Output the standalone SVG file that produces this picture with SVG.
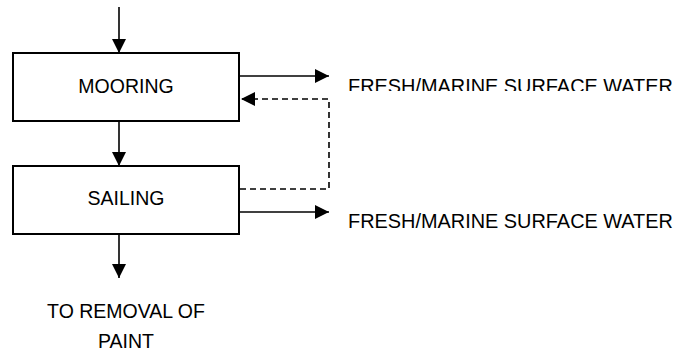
<svg xmlns="http://www.w3.org/2000/svg" width="679" height="353" viewBox="0 0 679 353">
  <style>
    .box { fill: #ffffff; stroke: #000000; stroke-width: 2; }
    .lbl { font-family: "Liberation Sans", Arial, sans-serif; font-size: 19.5px; fill: #000000; }
    .wide { font-size: 19.9px; }
    .mid { text-anchor: middle; }
    .ln { fill: none; stroke: #000000; stroke-width: 1.6; }
    .dash { stroke-dasharray: 6 4; }
  </style>
  <defs>
    <marker id="ah" markerUnits="userSpaceOnUse" markerWidth="16" markerHeight="16" viewBox="0 0 16 16" refX="15" refY="8" orient="auto">
      <path d="M1,1 L15,8 L1,15 Z" fill="#000000"/>
    </marker>
    <clipPath id="clip1">
      <rect x="340" y="60" width="339" height="31"/>
    </clipPath>
  </defs>
  <rect width="679" height="353" fill="#ffffff"/>

  <g id="connectors">
    <line class="ln" x1="119" y1="7" x2="119" y2="53" marker-end="url(#ah)"/>
    <line class="ln" x1="119" y1="121" x2="119" y2="166" marker-end="url(#ah)"/>
    <line class="ln" x1="119" y1="234" x2="119" y2="278" marker-end="url(#ah)"/>
    <line class="ln" x1="239" y1="76" x2="329" y2="76" marker-end="url(#ah)"/>
    <line class="ln" x1="239" y1="212" x2="329" y2="212" marker-end="url(#ah)"/>
    <polyline class="ln dash" points="240,189 329,189 329,99 241,99" marker-end="url(#ah)"/>
  </g>

  <g id="mooring">
    <rect class="box" x="13" y="53" width="226" height="68"/>
    <text class="lbl mid" x="126" y="92.5">MOORING</text>
  </g>

  <g id="sailing">
    <rect class="box" x="13" y="166" width="226" height="68"/>
    <text class="lbl mid" x="126" y="205">SAILING</text>
  </g>

  <g id="water1">
    <text class="lbl wide" x="348" y="92.5" clip-path="url(#clip1)">FRESH/MARINE SURFACE WATER</text>
  </g>

  <g id="water2">
    <text class="lbl wide" x="348" y="227.5">FRESH/MARINE SURFACE WATER</text>
  </g>

  <g id="removal">
    <text class="lbl mid" x="126" y="317.5">TO REMOVAL OF</text>
    <text class="lbl mid" x="126" y="347.5">PAINT</text>
  </g>
</svg>
